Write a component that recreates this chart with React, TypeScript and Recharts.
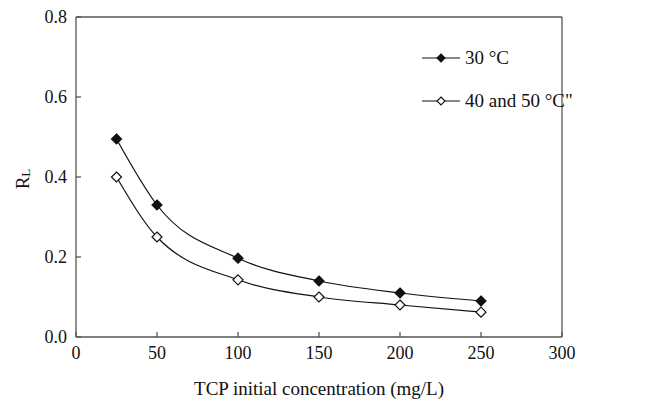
import React from "react";
import { LineChart, Line, XAxis, YAxis, ReferenceLine } from "recharts";

const concentrations = [25, 50, 100, 150, 200, 250];
const rl30 = [0.495, 0.33, 0.197, 0.14, 0.11, 0.09];
const rl4050 = [0.4, 0.25, 0.143, 0.1, 0.08, 0.062];
const xTicks = [0, 50, 100, 150, 200, 250, 300];
const yTicks = [0, 0.2, 0.4, 0.6, 0.8];
const seriesNames = ["30 °C", "40 and 50 °C\""];

const data = concentrations.map((c, i) => ({ x: c, a: rl30[i], b: rl4050[i] }));

const FONT = "Liberation Serif, Times New Roman, Times, serif";
const AXIS = "#555";
const INK = "#111";

const Diamond = (fill: string) => (props: any) => {
  const { cx, cy, index } = props;
  if (cx == null || cy == null) return <g key={index} />;
  const r = 5;
  return (
    <polygon
      key={index}
      points={`${cx},${cy - r} ${cx + r},${cy} ${cx},${cy + r} ${cx - r},${cy}`}
      fill={fill}
      stroke={INK}
      strokeWidth={1.2}
    />
  );
};

const LegendBox = () => (
  <svg width={220} height={80} style={{ position: "absolute", left: 420, top: 48 }}>
    {seriesNames.map((n, i) => {
      const y = 10 + i * 43;
      const fill = i === 0 ? INK : "#fff";
      return (
        <g key={n}>
          <line x1={2} x2={40} y1={y} y2={y} stroke={INK} strokeWidth={1.2} />
          <polygon
            points={`21,${y - 4} 25,${y} 21,${y + 4} 17,${y}`}
            fill={fill}
            stroke={INK}
            strokeWidth={1.1}
          />
          <text x={45} y={y + 6} fontFamily={FONT} fontSize={19} fill={INK}>
            {n}
          </text>
        </g>
      );
    })}
  </svg>
);

export default function App() {
  return (
    <div style={{ position: "absolute", left: 0, top: 0, width: 645, height: 401, background: "#fff", fontFamily: FONT }}>
      <LineChart width={645} height={401} data={data} margin={{ top: 17, right: 83, bottom: 0, left: 0 }}>
        <XAxis
          dataKey="x"
          type="number"
          domain={[0, 300]}
          ticks={xTicks}
          height={64}
          tickSize={-5}
          tickMargin={14}
          stroke={AXIS}
          strokeWidth={1.3}
          tick={{ fill: INK, fontFamily: FONT, fontSize: 18 }}
          label={{ value: "TCP initial concentration (mg/L)", position: "insideBottom", offset: 6, fill: INK, fontFamily: FONT, fontSize: 19 }}
        />
        <YAxis
          type="number"
          domain={[0, 0.8]}
          ticks={yTicks}
          width={76}
          tickSize={-5}
          tickMargin={14}
          stroke={AXIS}
          strokeWidth={1.3}
          tickFormatter={(v: number) => v.toFixed(1)}
          tick={{ fill: INK, fontFamily: FONT, fontSize: 18 }}
          label={(props: any) => {
            const vb = props.viewBox || {};
            const cx = 22;
            const cy = (vb.y || 17) + (vb.height || 320) / 2 + 2;
            return (
              <text transform={`rotate(-90, ${cx}, ${cy})`} x={cx} y={cy} textAnchor="middle" dominantBaseline="central" fontFamily={FONT} fontSize={19} fill={INK}>
                R<tspan fontSize={13} dy={3}>L</tspan>
              </text>
            );
          }}
        />
        <ReferenceLine y={0.8} stroke={AXIS} strokeWidth={1.3} />
        <ReferenceLine x={300} stroke={AXIS} strokeWidth={1.3} />
        <Line type="monotone" dataKey="a" name={seriesNames[0]} stroke={INK} strokeWidth={1.2} dot={Diamond(INK)} isAnimationActive={false} />
        <Line type="monotone" dataKey="b" name={seriesNames[1]} stroke={INK} strokeWidth={1.2} dot={Diamond("#fff")} isAnimationActive={false} />
      </LineChart>
      <LegendBox />
    </div>
  );
}
